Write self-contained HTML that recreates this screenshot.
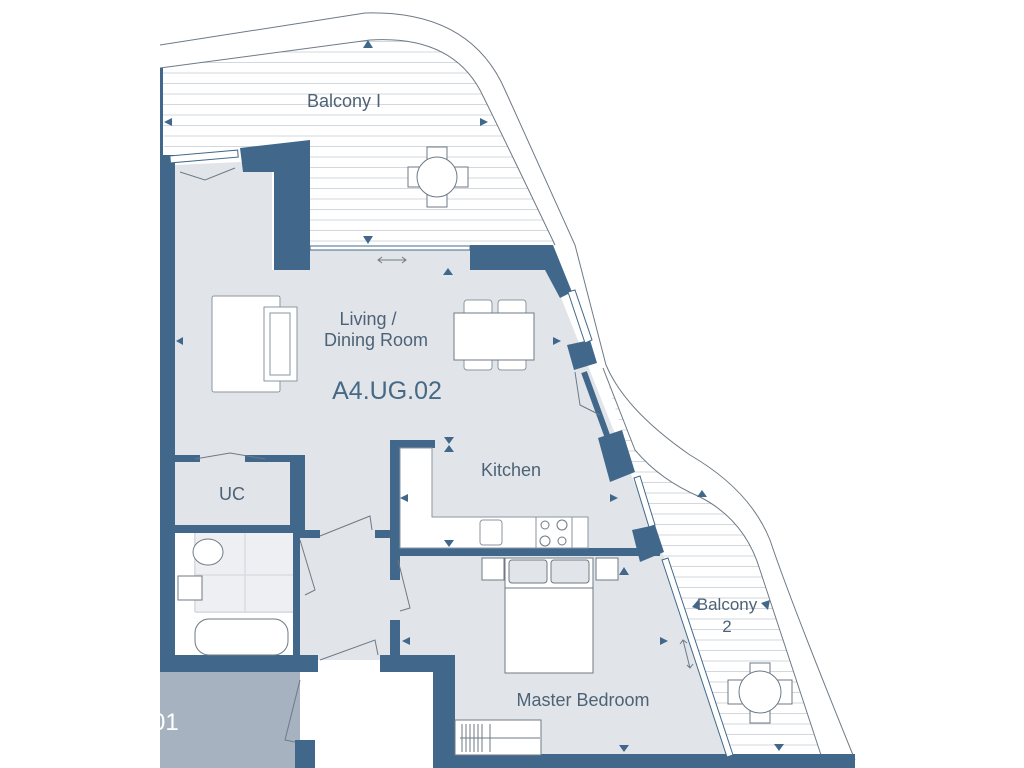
<!DOCTYPE html>
<html><head><meta charset="utf-8"><style>
html,body{margin:0;padding:0;background:#fff;}
svg{display:block;}
text{font-family:"Liberation Sans",sans-serif;fill:#4d6276;}
</style></head><body>
<svg width="1024" height="768" viewBox="0 0 1024 768" xmlns="http://www.w3.org/2000/svg">
<defs>
<pattern id="h" width="10" height="10.5" patternUnits="userSpaceOnUse">
<rect width="10" height="10.5" fill="#fff"/>
<line x1="0" y1="10" x2="10" y2="10" stroke="#d2d8de" stroke-width="1"/>
</pattern>
</defs>
<!-- Balcony 1 -->
<path d="M160,68 L370,40 Q450,35 480,90 Q500,130 555,245 L310,248 L310,145 L240,150 L165,160 Z" fill="url(#h)"/>
<path d="M160,68 L370,40 Q450,35 480,90 Q500,130 555,245" fill="none" stroke="#6e7a86" stroke-width="1"/>
<path d="M160,45 L365,13 Q470,10 505,90 L575,245 L606,365 Q625,410 690,455 Q750,490 770,540 Q790,600 855,760" fill="none" stroke="#6e7a86" stroke-width="1"/>
<!-- Balcony 2 -->
<path d="M603,368 L635,450 Q660,480 700,497 Q745,520 760,570 L822,758 L730,758 L660,555 Z" fill="url(#h)"/>
<path d="M603,368 L635,450 Q660,480 700,497 Q745,520 760,570 L822,758" fill="none" stroke="#6e7a86" stroke-width="1"/>
<!-- Floor -->
<path d="M175,165 L240,162 L272,172 L272,270 L310,270 L310,248 L470,248 L470,270 L545,270 L560,295 L665,560 L728,758 L455,758 L455,672 L400,672 L400,660 L175,660 Z" fill="#e1e5ea"/>
<!-- bathroom -->
<rect x="175" y="532" width="118" height="124" fill="#fff"/>
<g stroke="#cdd3da" stroke-width="1.5" fill="none">
<path d="M195,532 V612 M245,532 V612 M195,575 H293 M195,612 H293"/>
</g>
<rect x="195" y="532" width="98" height="80" fill="#e1e5ea" opacity="0.6"/>
<!-- hallway floor -->
<rect x="300" y="532" width="95" height="128" fill="#e1e5ea"/>
<!-- lower gray unit & white corridor -->
<rect x="160" y="672" width="140" height="96" fill="#a7b2c0"/>
<text x="152" y="730" font-size="24" style="fill:#fff">01</text>
<rect x="315" y="672" width="120" height="96" fill="#fff"/>
<!-- Walls -->
<g fill="#41688a">
<rect x="160" y="68" width="3" height="90"/>
<rect x="160" y="155" width="15" height="517"/>
<path d="M240,148 L310,140 L310,270 L274,270 L274,172 L243,172 Z"/>
<rect x="165" y="155" width="10" height="20"/>
<path d="M470,245 L553,245 L572,292 L560,298 L545,270 L470,270 Z"/>
<path d="M567,345 L590,340 L597,363 L574,370 Z"/>
<path d="M598,438 L622,430 L635,472 L610,482 Z"/>
<rect x="593" y="370" width="6" height="70" transform="rotate(-20 596 405)"/>
<path d="M632,530 L655,525 L664,552 L640,562 Z"/>
<rect x="175" y="455" width="25" height="7"/>
<rect x="245" y="455" width="60" height="7"/>
<rect x="290" y="455" width="15" height="77"/>
<rect x="175" y="525" width="130" height="8"/>
<rect x="293" y="525" width="7" height="135"/>
<rect x="300" y="530" width="20" height="8"/>
<rect x="375" y="530" width="25" height="8"/>
<rect x="390" y="440" width="10" height="140"/>
<rect x="390" y="440" width="45" height="8"/>
<rect x="395" y="548" width="265" height="8"/>
<rect x="390" y="620" width="10" height="45"/>
<rect x="160" y="655" width="158" height="17"/>
<rect x="380" y="655" width="75" height="17"/>
<rect x="433" y="655" width="22" height="113"/>
<rect x="295" y="740" width="20" height="28"/>
<rect x="455" y="754" width="400" height="14"/>
</g>
<!-- window strips -->
<g stroke="#41688a" stroke-width="1" fill="#fff">
<path d="M310,246 L470,246 L470,250 L310,250 Z"/>
<path d="M568,292 L575,290 L592,340 L585,343 Z"/>
<path d="M634,478 L640,476 L655,525 L649,527 Z"/>
<path d="M662,560 L668,558 L733,755 L727,757 Z"/>
<rect x="170" y="153" width="68" height="7" transform="rotate(-5 204 156)"/>
</g>
<!-- kitchen counter -->
<path d="M400,448 L432,448 L432,517 L588,517 L588,548 L400,548 Z" fill="#fff" stroke="#8a96a2"/>
<rect x="480" y="520" width="22" height="25" rx="3" fill="#fff" stroke="#8a96a2"/>
<rect x="536" y="517" width="36" height="31" fill="#fff" stroke="#8a96a2"/>
<g fill="none" stroke="#6e7a86"><circle cx="545" cy="525" r="4"/><circle cx="562" cy="525" r="5"/><circle cx="545" cy="541" r="5"/><circle cx="562" cy="541" r="4"/></g>
<!-- sofa / rug -->
<rect x="212" y="296" width="68" height="96" rx="2" fill="#fff" stroke="#8a96a2"/>
<rect x="264" y="307" width="33" height="74" fill="#fff" stroke="#8a96a2"/>
<path d="M270,313 H290 V375 H270 Z" fill="none" stroke="#8a96a2"/>
<!-- dining -->
<rect x="464" y="300" width="28" height="70" rx="3" fill="#fff" stroke="#8a96a2"/>
<rect x="498" y="300" width="28" height="70" rx="3" fill="#fff" stroke="#8a96a2"/>
<rect x="454" y="313" width="80" height="47" fill="#fff" stroke="#6e7a86"/>
<!-- balcony tables -->
<g fill="#fff" stroke="#6e7a86">
<rect x="427" y="147" width="20" height="60"/><rect x="408" y="167" width="60" height="20"/>
<circle cx="437" cy="177" r="20"/>
<rect x="750" y="663" width="20" height="60"/><rect x="728" y="680" width="64" height="24"/>
<circle cx="760" cy="692" r="21"/>
</g>
<!-- bed -->
<g fill="#fff" stroke="#6e7a86">
<rect x="482" y="558" width="22" height="22"/><rect x="596" y="558" width="22" height="22"/>
<rect x="505" y="558" width="88" height="115"/>
<rect x="509" y="560" width="38" height="23" rx="3" fill="#e1e5ea"/><rect x="551" y="560" width="38" height="23" rx="3" fill="#e1e5ea"/>
<line x1="505" y1="588" x2="593" y2="588"/>
</g>
<!-- wardrobe -->
<rect x="455" y="720" width="86" height="35" fill="#fff" stroke="#6e7a86"/>
<g stroke="#6e7a86"><path d="M462,724V752M466,724V752M470,724V752M474,724V752M478,724V752M482,724V752M490,724V752M460,738H540"/></g>
<!-- bath & wc -->
<rect x="195" y="619" width="93" height="36" rx="14" fill="#fff" stroke="#6e7a86"/>
<ellipse cx="208" cy="552" rx="15" ry="13" fill="#fff" stroke="#6e7a86"/>
<rect x="178" y="576" width="24" height="24" fill="#fff" stroke="#6e7a86"/>
<!-- doors -->
<g fill="none" stroke="#6e7a86">
<path d="M195,459 L230,453 L265,459"/>
<path d="M320,536 L370,516 L372,530"/>
<path d="M300,540 L315,590 L305,595"/>
<path d="M398,560 L410,608 L400,611"/>
<path d="M320,660 L375,640 L378,655"/>
<path d="M300,680 L285,740 L295,742"/>
<path d="M575,372 L580,405 L600,415"/>
<path d="M180,172 L205,180 L235,168"/>
<path d="M378,260 H406 M382,257 L378,260 L382,263 M402,257 L406,260 L402,263"/>
<path d="M683,640 L690,668 M680,644 L683,640 L687,643 M687,665 L690,668 L693,664"/>
</g>
<!-- arrows -->
<g fill="#41688a">
<path d="M363,48 L373,48 L368,40Z"/><path d="M363,236 L373,236 L368,244Z"/>
<path d="M164,122 L172,118 L172,126Z"/><path d="M488,122 L480,118 L480,126Z"/>
<path d="M443,275 L453,275 L448,268Z"/>
<path d="M176,341 L183,337 L183,345Z"/><path d="M561,341 L553,337 L553,345Z"/>
<path d="M444,437 L454,437 L449,444Z"/><path d="M444,452 L454,452 L449,445Z"/>
<path d="M400,498 L408,494 L408,502Z"/><path d="M618,498 L610,494 L610,502Z"/>
<path d="M444,540 L454,540 L449,547Z"/><path d="M619,575 L629,575 L624,567Z"/>
<path d="M402,641 L410,637 L410,645Z"/><path d="M668,641 L660,637 L660,645Z"/>
<path d="M619,745 L629,745 L624,752Z"/>
<path d="M697,497 L707,497 L702,490Z"/><path d="M761,603 L768,610 L770,600Z"/>
<path d="M692,607 L698,600 L700,610Z"/><path d="M774,744 L784,744 L779,751Z"/>
</g>
<!-- labels -->
<text x="344" y="107" font-size="18" text-anchor="middle">Balcony I</text>
<text x="368" y="325" font-size="18" text-anchor="middle">Living /</text>
<text x="376" y="346" font-size="18" text-anchor="middle">Dining Room</text>
<text x="387" y="399" font-size="25" text-anchor="middle" style="fill:#466985">A4.UG.02</text>
<text x="511" y="476" font-size="18" text-anchor="middle">Kitchen</text>
<text x="232" y="500" font-size="18" text-anchor="middle">UC</text>
<text x="727" y="610" font-size="17" text-anchor="middle">Balcony</text>
<text x="727" y="632" font-size="17" text-anchor="middle">2</text>
<text x="583" y="706" font-size="18" text-anchor="middle">Master Bedroom</text>
</svg>
</body></html>
